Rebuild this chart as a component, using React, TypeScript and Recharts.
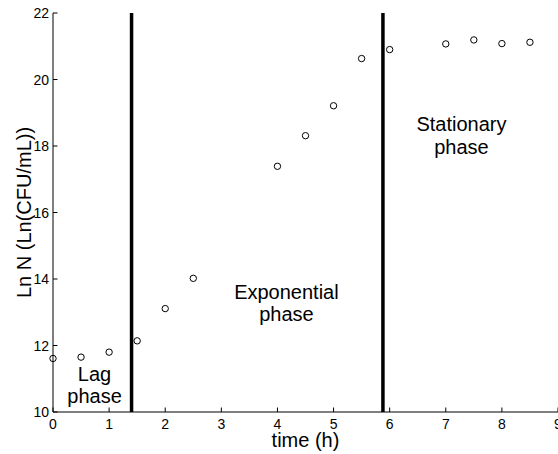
import React from 'react';
import {
  ScatterChart,
  Scatter,
  XAxis,
  YAxis,
  ReferenceLine,
  ReferenceDot,
} from 'recharts';

const times = [0, 0.5, 1, 1.5, 2, 2.5, 4, 4.5, 5, 5.5, 6, 7, 7.5, 8, 8.5];
const lnN = [11.61, 11.65, 11.8, 12.14, 13.11, 14.02, 17.39, 18.31, 19.21, 20.63, 20.9, 21.07, 21.19, 21.08, 21.12];

const xTicks = [0, 1, 2, 3, 4, 5, 6, 7, 8, 9];
const yTicks = [10, 12, 14, 16, 18, 20, 22];

// phase boundaries (h)
const boundaries = [1.4, 5.88];

const phaseNames = [['Lag', 'phase'], ['Exponential', 'phase'], ['Stationary', 'phase']];
const phaseX = [0.74, 4.16, 7.28];
const phaseY = [10.6, 13.07, 18.11];

const data = times.map((t, i) => ({ t, v: lnN[i] }));

const FONT = '"Liberation Sans", Arial, Helvetica, sans-serif';
const TICK_LEN = 4.5;

function BottomTick({ x, y, payload }: any) {
  return (
    <g>
      <line x1={x} x2={x} y1={y} y2={y - TICK_LEN} stroke="#000" />
      <text x={x} y={y + 17} textAnchor="middle" fontSize={14} fontFamily={FONT} fill="#000">
        {payload.value}
      </text>
    </g>
  );
}

function TopTick({ x, y }: any) {
  return <line x1={x} x2={x} y1={y} y2={y + TICK_LEN} stroke="#000" />;
}

function LeftTick({ x, y, payload }: any) {
  return (
    <g>
      <line x1={x} x2={x + TICK_LEN} y1={y} y2={y} stroke="#000" />
      <text x={x - 4} y={y + 5} textAnchor="end" fontSize={14} fontFamily={FONT} fill="#000">
        {payload.value}
      </text>
    </g>
  );
}

function RightTick({ x, y }: any) {
  return <line x1={x} x2={x - TICK_LEN} y1={y} y2={y} stroke="#000" />;
}

function Circle({ cx, cy }: any) {
  return <circle cx={cx} cy={cy} r={3.2} fill="none" stroke="#000" strokeWidth={1} />;
}

function phaseLabel(lines: string[]) {
  return ({ cx, cy }: any) => (
    <text textAnchor="middle" fontSize={20} fontFamily={FONT} fill="#000">
      <tspan x={cx} y={cy - 11.2}>{lines[0]}</tspan>
      <tspan x={cx} y={cy + 11.2}>{lines[1]}</tspan>
    </text>
  );
}

export default function App() {
  return (
    <div style={{ position: 'absolute', left: 0, top: 0, width: 558, height: 454, overflow: 'hidden', background: '#fff' }}>
      <ScatterChart width={562} height={454} margin={{ top: 13, right: 4, bottom: 0, left: 0 }}>
        <XAxis
          dataKey="t"
          type="number"
          domain={[0, 9]}
          ticks={xTicks}
          height={42}
          tickSize={0}
          tickMargin={0}
          tickLine={false}
          axisLine={{ stroke: '#000' }}
          tick={<BottomTick />}
        />
        <XAxis
          xAxisId="top"
          orientation="top"
          type="number"
          domain={[0, 9]}
          ticks={xTicks}
          height={0}
          tickSize={0}
          tickMargin={0}
          tickLine={false}
          axisLine={{ stroke: '#000' }}
          tick={<TopTick />}
        />
        <YAxis
          dataKey="v"
          type="number"
          domain={[10, 22]}
          ticks={yTicks}
          width={53}
          tickSize={0}
          tickMargin={0}
          tickLine={false}
          axisLine={{ stroke: '#000' }}
          tick={<LeftTick />}
        />
        <YAxis
          yAxisId="right"
          orientation="right"
          type="number"
          domain={[10, 22]}
          ticks={yTicks}
          width={0}
          tickSize={0}
          tickMargin={0}
          tickLine={false}
          axisLine={{ stroke: '#000' }}
          tick={<RightTick />}
        />
        {boundaries.map((b) => (
          <ReferenceLine key={b} x={b} stroke="#000" strokeWidth={3.5} />
        ))}
        {phaseNames.map((lines, i) => (
          <ReferenceDot key={i} x={phaseX[i]} y={phaseY[i]} r={0} shape={phaseLabel(lines)} />
        ))}
        <Scatter data={data} shape={<Circle />} isAnimationActive={false} />
      </ScatterChart>
      <svg width={558} height={454} style={{ position: 'absolute', left: 0, top: 0, pointerEvents: 'none' }}>
        <text x={305.5} y={447} textAnchor="middle" fontSize={20} fontFamily={FONT} fill="#000">
          time (h)
        </text>
        <text transform="translate(31,212.5) rotate(-90)" textAnchor="middle" fontSize={20} fontFamily={FONT} fill="#000">
          Ln N (Ln(CFU/mL))
        </text>
      </svg>
    </div>
  );
}
